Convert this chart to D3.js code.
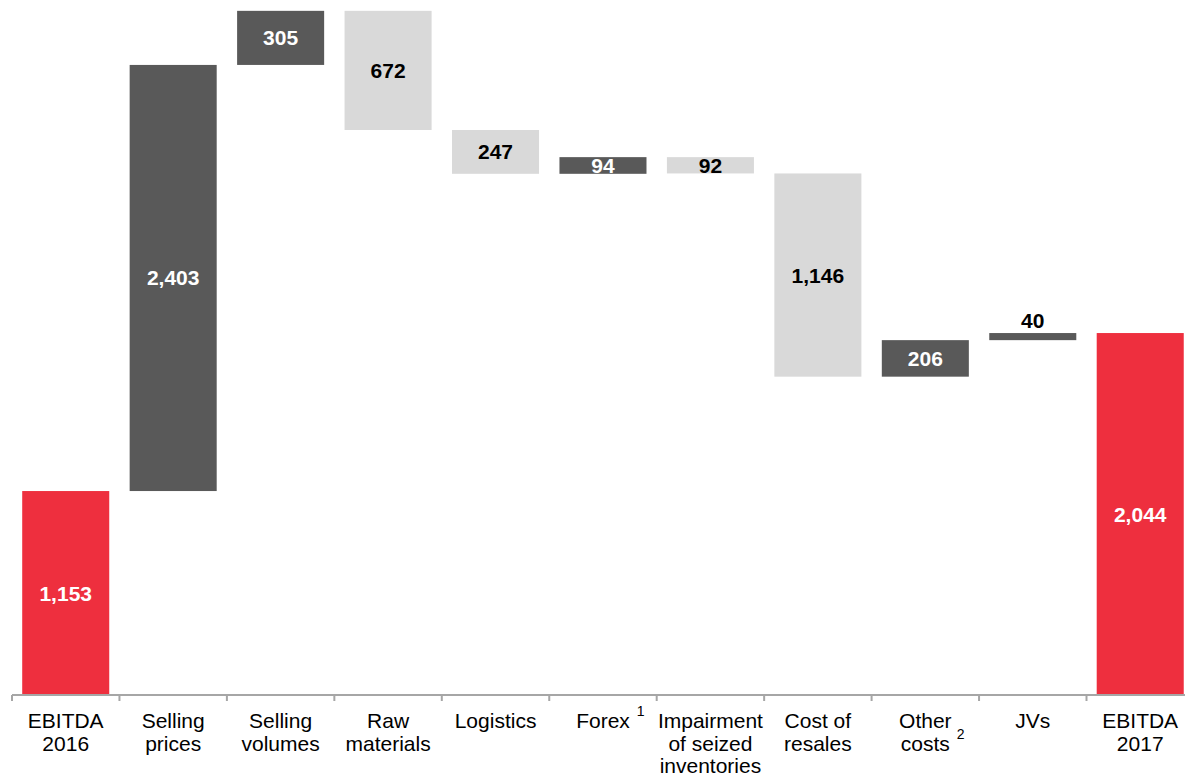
<!DOCTYPE html>
<html>
<head>
<meta charset="utf-8">
<script src="https://cdn.jsdelivr.net/npm/d3@7"></script>
<style>
  html, body { margin: 0; padding: 0; background: #ffffff; }
  svg { display: block; font-family: "Liberation Sans", Arial, sans-serif; }
</style>
</head>
<body>
<svg id="chart" width="1185" height="778"></svg>
<script>
// ---- Data ----
const categories = [
  ["EBITDA", "2016"],
  ["Selling", "prices"],
  ["Selling", "volumes"],
  ["Raw", "materials"],
  ["Logistics"],
  ["Forex"],
  ["Impairment", "of seized", "inventories"],
  ["Cost of", "resales"],
  ["Other", "costs"],
  ["JVs"],
  ["EBITDA", "2017"]
];
const footnotes = ["", "", "", "", "", "1", "", "", "2", "", ""];
const values = [1153, 2403, 305, -672, -247, 94, -92, -1146, 206, 40, 2044];
const kinds = ["total", "delta", "delta", "delta", "delta", "delta", "delta", "delta", "delta", "delta", "total"];
const valueLabels = ["1,153", "2,403", "305", "672", "247", "94", "92", "1,146", "206", "40", "2,044"];

// ---- Build waterfall ----
let running = 0;
const rows = values.map((v, i) => {
  let start, end;
  if (kinds[i] === "total") { start = 0; end = v; running = v; }
  else { start = running; end = running + v; running = end; }
  return { i, v, kind: kinds[i], lo: Math.min(start, end), hi: Math.max(start, end), label: valueLabels[i] };
});

const colors = { total: "#EE2F3E", up: "#595959", down: "#D9D9D9" };
const labelColors = { total: "#ffffff", up: "#ffffff", down: "#000000" };

const svg = d3.select("#chart");
const x = d3.scaleBand()
  .domain(d3.range(categories.length))
  .range([12, 12 + 107.45 * categories.length])
  .paddingInner(0.19)
  .paddingOuter(0.095);
const step = x.step();
const y = d3.scaleLinear().domain([0, 4000]).range([695.5, -13.8]);

const colorKey = d => d.kind === "total" ? "total" : (d.v >= 0 ? "up" : "down");

// Bars
svg.append("g").selectAll("rect").data(rows).join("rect")
  .attr("x", d => x(d.i))
  .attr("width", x.bandwidth())
  .attr("y", d => y(d.hi))
  .attr("height", d => y(d.lo) - y(d.hi))
  .attr("fill", d => colors[colorKey(d)]);

// Value labels
svg.append("g").selectAll("text").data(rows).join("text")
  .attr("x", d => x(d.i) + x.bandwidth() / 2)
  .attr("y", d => {
    const h = y(d.lo) - y(d.hi);
    return h < 12 ? y(d.hi) - 5 : (y(d.lo) + y(d.hi)) / 2 + 7.5;
  })
  .attr("text-anchor", "middle")
  .attr("font-size", 21)
  .attr("font-weight", "bold")
  .attr("fill", d => {
    const h = y(d.lo) - y(d.hi);
    return h < 12 ? "#000000" : labelColors[colorKey(d)];
  })
  .text(d => d.label);

// Axis
const axisY = 695;
const ax = svg.append("g");
const x0 = x.range()[0];
ax.append("line")
  .attr("x1", x0).attr("x2", 1185)
  .attr("y1", axisY).attr("y2", axisY)
  .attr("stroke", "#A6A6A6").attr("stroke-width", 2);
ax.selectAll("line.tick").data(d3.range(categories.length + 1)).join("line")
  .attr("class", "tick")
  .attr("x1", i => x0 + i * step).attr("x2", i => x0 + i * step)
  .attr("y1", axisY).attr("y2", axisY + 6)
  .attr("stroke", "#A6A6A6").attr("stroke-width", 2);

// Category labels
const lab = svg.append("g");
categories.forEach((lines, i) => {
  const cx = x0 + (i + 0.5) * step;
  lines.forEach((ln, k) => {
    const t = lab.append("text")
      .attr("x", cx)
      .attr("y", 728 + k * 22.5)
      .attr("text-anchor", "middle")
      .attr("font-size", 21)
      .attr("fill", "#000000")
      .text(ln);
    if (footnotes[i] && k === lines.length - 1) {
      const w = t.node().getComputedTextLength();
      lab.append("text")
        .attr("x", cx + w / 2 + 7)
        .attr("y", 728 + k * 22.5 - 12)
        .attr("font-size", 14)
        .attr("fill", "#000000")
        .text(footnotes[i]);
    }
  });
});
</script>
</body>
</html>
